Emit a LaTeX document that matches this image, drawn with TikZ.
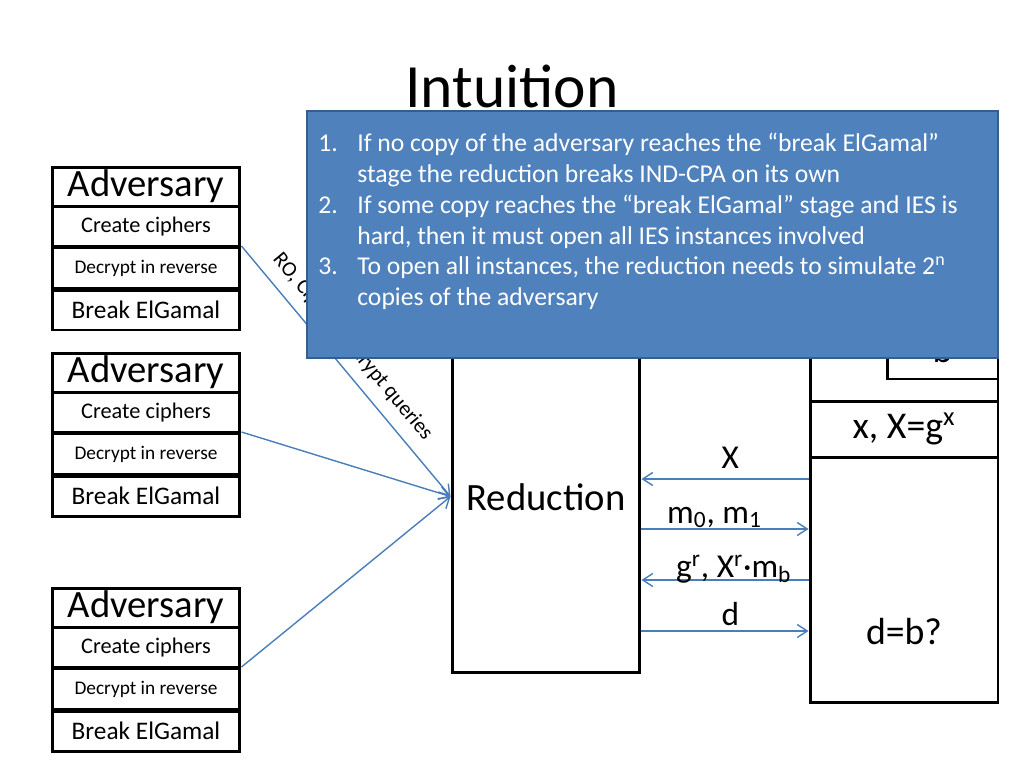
\documentclass[tikz,border=0pt]{standalone}
\usepackage{fontspec}
\setmainfont{Carlito}
\usetikzlibrary{arrows.meta,positioning}

\definecolor{noteblue}{HTML}{4F81BD}
\definecolor{noteedge}{HTML}{385D8A}
\definecolor{msgblue}{HTML}{4A7EBB}

\tikzset{
  box/.style={draw, line width=1.7pt, inner sep=0pt, minimum width=3.76cm},
  msg/.style={draw=msgblue, line width=0.8pt, -{Straight Barb[length=2mm,width=2.6mm]}},
  lbl/.style={font=\fontsize{19}{21}\selectfont, inner sep=0pt, anchor=base},
}

\begin{document}
\begin{tikzpicture}[x=0.02cm, y=-0.02cm]
    \useasboundingbox (0,0) rectangle (1024,768);

    \node (title) at (512,86) {\fontsize{35}{40}\selectfont Intuition};

    % three copies of the adversary
    \foreach \n/\y in {1/167,2/353,3/588}{
        \node[box, minimum height=0.78cm, font=\fontsize{22}{24}\selectfont] (adv\n) at (146,\y+19.5) {Adversary};
        \node[box, minimum height=0.80cm, font=\fontsize{12.7}{14}\selectfont] (cre\n) at (146,\y+59.5) {Create ciphers};
        \node[box, minimum height=0.82cm, font=\fontsize{11}{13}\selectfont] (dec\n) at (146,\y+101) {Decrypt in reverse};
        \node[box, minimum height=0.80cm, font=\fontsize{14.4}{16}\selectfont] (brk\n) at (146,\y+143) {Break ElGamal};
    }

    % reduction
    \node[box, minimum height=7.06cm] (red) at (546,496.5) {};
    \node[font=\fontsize{22}{24}\selectfont] (redtext) at (546,497) {Reduction};

    % challenger
    \node[box, minimum height=2.22cm] (chaltop) at (904,345.5) {};
    \node[box, minimum width=2.22cm, minimum height=1.18cm, font=\fontsize{21.5}{24}\selectfont] (bit) at (942.5,349.5) {b};
    \node[box, minimum height=1.12cm, font=\fontsize{21.5}{24}\selectfont] (key) at (904,429) {x, X=g\textsuperscript{x}};
    \node[box, minimum height=4.92cm] (chal) at (904,580) {};
    \node[font=\fontsize{21.5}{24}\selectfont] (guess) at (904,632) {d=b?};

    % queries from the adversaries
    \draw[msg] (dec1.north east) -- (red.west)
        node[pos=0.455, sloped, above=3pt, font=\fontsize{12.1}{14}\selectfont, text=black] {RO, Cipher, Decrypt queries};
    \draw[msg] (dec2.north east) -- (red.west);
    \draw[msg] (dec3.north east) -- (red.west);

    % IND-CPA game
    \coordinate (yX) at (0,479);
    \coordinate (yM) at (0,529);
    \coordinate (yC) at (0,580);
    \coordinate (yD) at (0,631);
    \draw[msg] (chal.west |- yX) -- (red.east |- yX) node[lbl, midway, xshift=3pt, yshift=5.7pt] {X};
    \draw[msg] (red.east |- yM) -- (chal.west |- yM) node[lbl, midway, xshift=-6pt, yshift=3.4pt] {m\textsubscript{0}, m\textsubscript{1}};
    \draw[msg] (chal.west |- yC) -- (red.east |- yC) node[lbl, midway, xshift=5pt, yshift=1.7pt] {g\textsuperscript{r}, X\textsuperscript{r}·m\textsubscript{b}};
    \draw[msg] (red.east |- yD) -- (chal.west |- yD) node[lbl, midway, xshift=3pt, yshift=3.4pt] {d};

    % overlay with the argument
    \node[draw=noteedge, line width=1.1pt, fill=noteblue, minimum width=13.82cm, minimum height=4.94cm] (note) at (652.5,234.5) {};
    \node[anchor=north west, inner sep=0pt, text=white, font=\fontsize{14.6}{17.5}\selectfont] (notetext) at (318,130) {%
        \begin{tabular}{@{}p{0.78cm}@{}l@{}}
        1. & If no copy of the adversary reaches the “break ElGamal” \\
           & stage the reduction breaks IND-CPA on its own \\
        2. & If some copy reaches the “break ElGamal” stage and IES is \\
           & hard, then it must open all IES instances involved \\
        3. & To open all instances, the reduction needs to simulate 2\textsuperscript{n} \\
           & copies of the adversary
        \end{tabular}};
\end{tikzpicture}
\end{document}
